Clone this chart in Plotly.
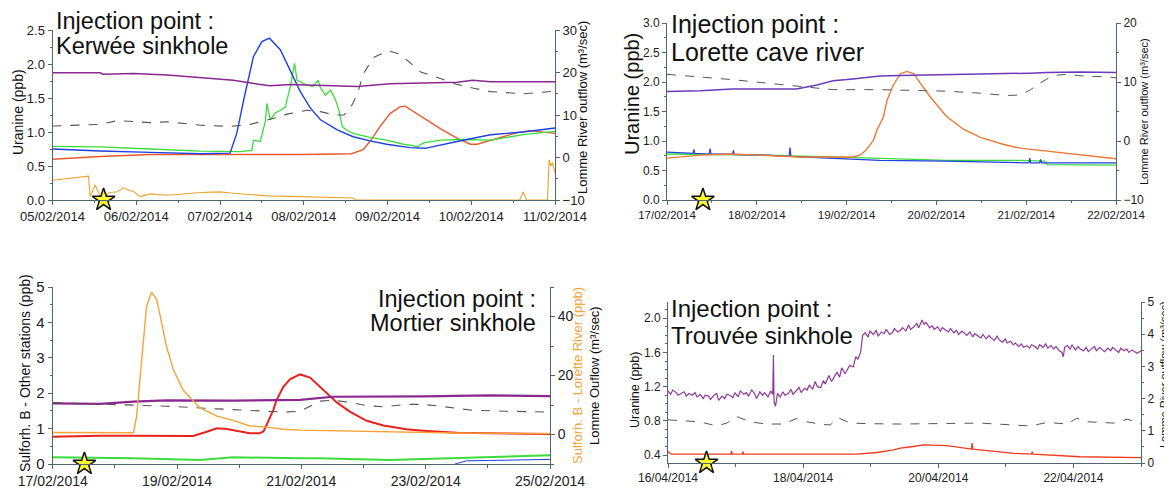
import plotly.graph_objects as go
import pandas as pd

W, H = 1172, 489
OFF = 8                       # page body margin of the browser
FW, FH = W - OFF, H - OFF     # figure size inside the page
FONT = "Liberation Sans, Arial, sans-serif"
AX = "#4f6670"

# ---------------- Panel 1 : Kerwée sinkhole (days from 05/02/2014) ----------------
p1_base = "2014-02-05"
p1_purple_t = [0, 0.57, 0.60, 0.97, 1.37, 1.77, 2.16, 2.48, 2.60, 2.84, 3.23, 3.64, 4.03, 4.43, 4.83, 5.02, 5.23, 6.0]
p1_purple_v = [1.87, 1.87, 1.85, 1.86, 1.84, 1.80, 1.76, 1.70, 1.68, 1.70, 1.68, 1.67, 1.71, 1.72, 1.73, 1.76, 1.74, 1.74]
p1_blue_t = [0, 0.57, 1.17, 1.77, 2.12, 2.20, 2.30, 2.40, 2.50, 2.59, 2.72, 2.84, 2.96, 3.08, 3.20, 3.40, 3.59, 3.79, 3.99, 4.27, 4.45, 4.83, 5.23, 5.62, 6.0]
p1_blue_v = [0.75, 0.72, 0.70, 0.68, 0.69, 0.98, 1.57, 2.11, 2.33, 2.38, 2.21, 1.91, 1.59, 1.35, 1.18, 1.03, 0.93, 0.87, 0.82, 0.77, 0.76, 0.86, 0.96, 1.00, 1.06]
p1_green_t = [0, 0.57, 1.17, 1.77, 2.24, 2.38, 2.40, 2.48, 2.54, 2.56, 2.60, 2.66, 2.72, 2.78, 2.84, 2.89, 2.92, 2.96, 3.04, 3.11, 3.17, 3.20, 3.26, 3.32, 3.38, 3.42, 3.46, 3.51, 3.59, 3.79, 3.99, 4.19, 4.31, 4.35, 4.43, 4.63, 4.90, 5.23, 5.62, 6.0]
p1_green_v = [0.79, 0.78, 0.75, 0.72, 0.71, 0.73, 0.88, 0.86, 1.15, 1.42, 1.18, 1.28, 1.32, 1.37, 1.67, 2.01, 1.76, 1.74, 1.69, 1.67, 1.76, 1.65, 1.54, 1.62, 1.47, 1.32, 1.08, 1.03, 0.98, 0.92, 0.88, 0.82, 0.80, 0.78, 0.84, 0.88, 0.89, 0.88, 0.96, 1.01]
p1_red_t = [0, 0.57, 1.17, 1.77, 2.37, 2.97, 3.57, 3.71, 3.79, 3.91, 4.03, 4.15, 4.21, 4.35, 4.43, 4.63, 4.83, 4.99, 5.07, 5.23, 5.55, 5.70, 6.0]
p1_red_v = [0.60, 0.64, 0.67, 0.67, 0.66, 0.67, 0.68, 0.74, 0.86, 1.08, 1.27, 1.37, 1.38, 1.27, 1.22, 1.05, 0.91, 0.82, 0.82, 0.88, 0.99, 1.02, 0.98]
p1_orange_t = [0, 0.43, 0.45, 0.51, 0.57, 0.69, 0.78, 0.84, 0.97, 1.05, 1.17, 1.37, 1.77, 2.00, 2.16, 2.57, 2.96, 3.32, 3.59, 3.62, 5.58, 5.62, 5.66, 5.91, 5.93, 5.95, 5.97, 6.0]
p1_orange_v = [0.29, 0.35, 0.05, 0.22, 0.05, 0.11, 0.12, 0.18, 0.12, 0.05, 0.09, 0.07, 0.11, 0.12, 0.10, 0.06, 0.05, 0.04, 0.03, 0.0, 0.0, 0.12, 0.0, 0.0, 0.59, 0.50, 0.55, 0.40]
p1_flow_t = [0, 0.57, 0.78, 1.17, 1.37, 1.77, 2.12, 2.36, 2.72, 2.80, 3.04, 3.20, 3.36, 3.48, 3.56, 3.64, 3.71, 3.83, 4.01, 4.15, 4.27, 4.39, 4.63, 4.83, 5.03, 5.23, 5.62, 6.0]
p1_flow_v = [7.4, 7.8, 8.7, 8.2, 8.4, 7.6, 7.3, 7.8, 9.6, 10.2, 11.1, 10.8, 10.0, 10.0, 11.7, 14.9, 19.6, 23.5, 25.1, 24.3, 22.3, 20.2, 18.6, 17.2, 16.3, 15.5, 15.0, 15.6]
p1_star_t = [0.61]

# ---------------- Panel 2 : Lorette cave river (days from 17/02/2014) ----------------
p2_base = "2014-02-17"
p2_purple_t = [0, 0.37, 0.73, 1.11, 1.44, 1.67, 1.85, 2.07, 2.22, 2.37, 2.60, 3.11, 3.49, 4.04, 4.23, 4.60, 5.0]
p2_purple_v = [1.84, 1.85, 1.88, 1.88, 1.88, 1.95, 2.02, 2.05, 2.07, 2.10, 2.11, 2.12, 2.14, 2.15, 2.16, 2.17, 2.16]
p2_flow_t = [0, 0.73, 1.48, 1.85, 2.37, 3.11, 3.49, 3.78, 3.93, 4.04, 4.15, 4.30, 4.45, 4.67, 4.90, 5.0]
p2_flow_v = [11.3, 10.4, 9.25, 8.7, 8.7, 8.45, 8.1, 7.7, 7.8, 8.6, 9.8, 11.1, 11.3, 10.95, 10.9, 10.7]
p2_orange_t = [0, 0.37, 0.73, 1.48, 1.85, 2.07, 2.15, 2.22, 2.30, 2.34, 2.41, 2.45, 2.52, 2.60, 2.67, 2.75, 2.82, 2.93, 3.11, 3.30, 3.49, 3.75, 3.93, 4.23, 4.60, 5.0]
p2_orange_v = [0.71, 0.76, 0.78, 0.73, 0.73, 0.73, 0.76, 0.85, 1.02, 1.19, 1.41, 1.69, 1.95, 2.14, 2.18, 2.14, 1.98, 1.75, 1.42, 1.20, 1.06, 0.94, 0.88, 0.83, 0.76, 0.70]
p2_blue_t = [0, 0.29, 0.30, 0.31, 0.47, 0.48, 0.49, 0.73, 0.74, 0.75, 1.11, 1.36, 1.37, 1.38, 1.48, 1.85, 2.37, 3.11, 3.85, 4.03, 4.04, 4.05, 4.15, 4.16, 4.17, 5.0]
p2_blue_v = [0.81, 0.79, 0.86, 0.79, 0.78, 0.87, 0.78, 0.78, 0.84, 0.77, 0.76, 0.74, 0.89, 0.74, 0.73, 0.71, 0.67, 0.66, 0.63, 0.63, 0.71, 0.63, 0.63, 0.69, 0.63, 0.63]
p2_green_t = [0, 0.73, 1.11, 1.85, 2.60, 3.11, 3.93, 4.20, 4.23, 5.0]
p2_green_v = [0.78, 0.77, 0.76, 0.73, 0.69, 0.67, 0.67, 0.66, 0.60, 0.59]
p2_star_t = [0.40]

# ---------------- Panel 3 : Mortier sinkhole (days from 17/02/2014) ----------------
p3_base = "2014-02-17"
p3_orange_t = [0, 1.30, 1.35, 1.40, 1.46, 1.51, 1.59, 1.67, 1.73, 1.83, 1.94, 2.10, 2.37, 2.64, 2.90, 3.17, 3.44, 3.71, 3.98, 4.78, 5.58, 6.47, 8.0]
p3_orange_v = [0.7, 0.6, 6.2, 18.6, 33.3, 43.5, 48.3, 45.8, 40.1, 29.9, 22.0, 15.0, 9.0, 6.2, 4.8, 2.9, 2.5, 1.8, 1.5, 1.1, 0.7, 0.5, 0.3]
p3_red_t = [0, 0.76, 1.30, 2.10, 2.26, 2.48, 2.64, 2.80, 3.01, 3.17, 3.33, 3.39, 3.44, 3.55, 3.60, 3.71, 3.82, 3.98, 4.14, 4.35, 4.57, 4.78, 5.05, 5.32, 5.69, 5.96, 6.50, 7.03, 8.0]
p3_red_v = [0.77, 0.80, 0.80, 0.80, 0.79, 0.91, 1.01, 0.99, 0.91, 0.87, 0.87, 0.92, 1.10, 1.53, 1.80, 2.18, 2.40, 2.53, 2.44, 2.09, 1.74, 1.48, 1.22, 1.09, 0.98, 0.94, 0.88, 0.87, 0.85]
p3_purple_t = [0, 0.76, 1.30, 1.83, 2.90, 3.98, 4.51, 5.96, 7.03, 8.0]
p3_purple_v = [1.71, 1.70, 1.76, 1.80, 1.79, 1.81, 1.90, 1.91, 1.94, 1.92]
p3_flow_t = [0, 0.76, 1.83, 2.64, 3.17, 3.71, 3.98, 4.14, 4.30, 4.51, 4.78, 5.05, 5.32, 5.69, 5.96, 6.23, 6.76, 7.30, 8.0]
p3_flow_v = [10.8, 10.4, 9.6, 8.7, 8.1, 7.6, 7.9, 9.6, 11.3, 11.6, 10.9, 9.8, 9.4, 10.2, 10.2, 9.6, 8.2, 7.9, 7.6]
p3_green_t = [0, 1.30, 2.37, 2.90, 3.98, 4.30, 5.42, 6.50, 8.0]
p3_green_v = [0.19, 0.16, 0.11, 0.19, 0.16, 0.16, 0.11, 0.16, 0.25]
p3_blue_t = [6.47, 6.66, 7.03, 8.0]
p3_blue_v = [0.0, 0.09, 0.10, 0.13]
p3_star_t = [0.51]

# ---------------- Panel 4 : Trouvée sinkhole (days from 16/04/2014) ----------------
p4_base = "2014-04-16"
p4_purple_t = [0.00, 0.04, 0.07, 0.12, 0.15, 0.19, 0.24, 0.27, 0.31, 0.36, 0.40, 0.43, 0.48, 0.52, 0.55, 0.60, 0.63, 0.68, 0.72, 0.75,
               0.80, 0.84, 0.87, 0.92, 0.96, 0.99, 1.04, 1.07, 1.12, 1.16, 1.19, 1.24, 1.28, 1.31, 1.36, 1.40, 1.43, 1.48, 1.52, 1.55,
               1.56, 1.57, 1.59, 1.62, 1.66, 1.70, 1.73, 1.78, 1.82, 1.85, 1.90, 1.94, 1.97, 2.02, 2.06, 2.09, 2.14, 2.18, 2.21, 2.26,
               2.30, 2.33, 2.38, 2.42, 2.45, 2.50, 2.54, 2.57, 2.62, 2.66, 2.69, 2.74, 2.78, 2.81, 2.85, 2.88, 2.92, 2.96, 2.99, 3.04,
               3.08, 3.11, 3.16, 3.20, 3.23, 3.28, 3.32, 3.35, 3.40, 3.44, 3.47, 3.52, 3.56, 3.59, 3.64, 3.68, 3.71, 3.76, 3.79, 3.82,
               3.87, 3.91, 3.94, 3.99, 4.03, 4.06, 4.11, 4.15, 4.18, 4.23, 4.27, 4.30, 4.35, 4.39, 4.42, 4.47, 4.51, 4.54, 4.59, 4.63,
               4.66, 4.71, 4.75, 4.78, 4.83, 4.87, 4.90, 4.95, 4.99, 5.02, 5.07, 5.11, 5.14, 5.19, 5.23, 5.26, 5.31, 5.35, 5.38, 5.43,
               5.47, 5.50, 5.55, 5.59, 5.62, 5.67, 5.71, 5.74, 5.79, 5.83, 5.85, 5.87, 5.91, 5.95, 5.98, 6.03, 6.07, 6.10, 6.15, 6.19,
               6.22, 6.27, 6.31, 6.34, 6.39, 6.43, 6.46, 6.51, 6.55, 6.58, 6.63, 6.67, 6.70, 6.75, 6.79, 6.82, 6.87, 6.91, 6.94, 7.00]
p4_purple_v = [1.15, 1.11, 1.16, 1.13, 1.10, 1.12, 1.14, 1.09, 1.12, 1.10, 1.13, 1.08, 1.11, 1.06, 1.10, 1.09, 1.05, 1.10, 1.12, 1.04,
               1.09, 1.06, 1.11, 1.10, 1.07, 1.13, 1.08, 1.15, 1.11, 1.13, 1.09, 1.16, 1.12, 1.06, 1.14, 1.10, 1.13, 1.08, 1.15, 1.11,
               1.57, 1.02, 0.97, 1.12, 1.08, 1.14, 1.10, 1.12, 1.17, 1.11, 1.15, 1.19, 1.13, 1.18, 1.16, 1.22, 1.17, 1.26, 1.20, 1.19,
               1.27, 1.23, 1.33, 1.26, 1.30, 1.37, 1.31, 1.42, 1.35, 1.40, 1.45, 1.43, 1.55, 1.52, 1.60, 1.80, 1.83, 1.78, 1.85, 1.81,
               1.86, 1.79, 1.84, 1.82, 1.87, 1.81, 1.83, 1.88, 1.84, 1.86, 1.89, 1.85, 1.92, 1.87, 1.90, 1.94, 1.89, 1.98, 1.93, 1.95,
               1.89, 1.91, 1.87, 1.90, 1.85, 1.89, 1.86, 1.84, 1.88, 1.83, 1.86, 1.81, 1.85, 1.82, 1.80, 1.84, 1.78, 1.82, 1.79, 1.77,
               1.81, 1.76, 1.80, 1.77, 1.74, 1.79, 1.75, 1.72, 1.76, 1.71, 1.73, 1.69, 1.71, 1.67, 1.70, 1.66, 1.68, 1.65, 1.69, 1.67,
               1.64, 1.69, 1.66, 1.70, 1.65, 1.68, 1.64, 1.67, 1.62, 1.60, 1.55, 1.66, 1.68, 1.64, 1.69, 1.63, 1.67, 1.64, 1.62, 1.66,
               1.61, 1.65, 1.67, 1.62, 1.66, 1.63, 1.61, 1.65, 1.62, 1.66, 1.63, 1.60, 1.65, 1.62, 1.64, 1.60, 1.63, 1.61, 1.59, 1.62]
p4_flow_t = [0, 0.47, 0.72, 0.87, 1.02, 1.21, 1.46, 1.71, 1.90, 2.05, 2.25, 2.40, 2.52, 2.70, 3.0, 3.44, 4.62, 5.36, 5.61, 5.91, 6.05, 6.20, 6.60, 6.80, 7.0]
p4_flow_v = [1.34, 1.28, 1.15, 1.24, 1.44, 1.28, 1.21, 1.21, 1.38, 1.28, 1.21, 1.18, 1.40, 1.24, 1.22, 1.21, 1.24, 1.15, 1.26, 1.21, 1.39, 1.28, 1.24, 1.36, 1.21]
p4_red_t = [0, 0.05, 0.93, 0.94, 0.95, 1.10, 1.11, 1.12, 2.80, 3.09, 3.34, 3.44, 3.63, 3.78, 4.13, 4.49, 4.50, 4.51, 4.62, 5.12, 5.38, 5.39, 5.40, 5.61, 6.10, 7.0]
p4_red_v = [0.44, 0.41, 0.41, 0.45, 0.41, 0.41, 0.44, 0.41, 0.41, 0.43, 0.46, 0.48, 0.50, 0.52, 0.51, 0.47, 0.54, 0.47, 0.46, 0.42, 0.41, 0.44, 0.41, 0.40, 0.38, 0.37]
p4_star_t = [0.57]


def ts(base, days):
    b = pd.Timestamp(base)
    return [b + pd.Timedelta(days=d) for d in days]


def xdom(a, b):
    return [(a - OFF) / FW, (b - OFF) / FW]


def ydom(top, bottom):
    return [1 - (bottom - OFF) / FH, 1 - (top - OFF) / FH]


fig = go.Figure()


def line(base, t, v, color, xa, ya, width=1.3, dash="solid"):
    fig.add_trace(go.Scatter(x=ts(base, t), y=v, mode="lines", xaxis=xa, yaxis=ya,
                             line=dict(color=color, width=width, dash=dash), showlegend=False,
                             hoverinfo="skip"))


def star(base, t, yv, xa, ya):
    fig.add_trace(go.Scatter(x=ts(base, t), y=[yv] * len(t), mode="markers", xaxis=xa, yaxis=ya,
                             marker=dict(symbol="star", size=17, color="#ffff33",
                                         line=dict(color="#111111", width=1.5)),
                             cliponaxis=False, showlegend=False, hoverinfo="skip"))


PURPLE = "#8B2890"
BLUE = "#2040E0"
GREEN = "#3CDC3C"
DASH = "#555555"

# Panel 1
line(p1_base, p1_flow_t, p1_flow_v, DASH, "x", "y2", 1.1, "dash")
line(p1_base, p1_orange_t, p1_orange_v, "#EAA530", "x", "y", 1.1)
line(p1_base, p1_red_t, p1_red_v, "#E85A2C", "x", "y", 1.4)
line(p1_base, p1_green_t, p1_green_v, GREEN, "x", "y", 1.3)
line(p1_base, p1_blue_t, p1_blue_v, BLUE, "x", "y", 1.4)
line(p1_base, p1_purple_t, p1_purple_v, PURPLE, "x", "y", 1.5)
star(p1_base, p1_star_t, 0, "x", "y")

# Panel 2
line(p2_base, p2_flow_t, p2_flow_v, DASH, "x2", "y4", 1.0, "dash")
line(p2_base, p2_green_t, p2_green_v, GREEN, "x2", "y3", 1.3)
line(p2_base, p2_blue_t, p2_blue_v, BLUE, "x2", "y3", 1.2)
line(p2_base, p2_orange_t, p2_orange_v, "#F07838", "x2", "y3", 1.4)
line(p2_base, p2_purple_t, p2_purple_v, "#6A3BB8", "x2", "y3", 1.5)
star(p2_base, p2_star_t, 0, "x2", "y3")

# Panel 3
line(p3_base, p3_flow_t, p3_flow_v, DASH, "x3", "y6", 1.1, "dash")
line(p3_base, p3_green_t, p3_green_v, GREEN, "x3", "y5", 2.0)
line(p3_base, p3_blue_t, p3_blue_v, BLUE, "x3", "y5", 1.0)
line(p3_base, p3_orange_t, p3_orange_v, "#F5A33A", "x3", "y6", 1.4)
line(p3_base, p3_red_t, p3_red_v, "#E8231E", "x3", "y5", 2.0)
line(p3_base, p3_purple_t, p3_purple_v, PURPLE, "x3", "y5", 2.2)
star(p3_base, p3_star_t, 0, "x3", "y5")

# Panel 4
line(p4_base, p4_flow_t, p4_flow_v, DASH, "x4", "y8", 1.0, "dash")
line(p4_base, p4_red_t, p4_red_v, "#F03A1E", "x4", "y7", 1.3)
line(p4_base, p4_purple_t, p4_purple_v, "#8E3A98", "x4", "y7", 1.2)
star(p4_base, p4_star_t, 0.307, "x4", "y7")


def axstyle(size, **kw):
    d = dict(showline=True, linecolor=AX, linewidth=1, ticks="outside", ticklen=4, tickcolor=AX,
             showgrid=False, zeroline=False, automargin=False,
             tickfont=dict(family=FONT, size=size, color="#222222"))
    d.update(kw)
    return d


DAY = 86400000

layout = dict(
    width=FW, height=FH, margin=dict(l=0, r=0, t=0, b=0, pad=0),
    paper_bgcolor="white", plot_bgcolor="white", showlegend=False,
    # panel 1
    xaxis=axstyle(13, domain=xdom(52.5, 555), anchor="y", type="date",
                  range=["2014-02-05", "2014-02-11"], tick0="2014-02-05", dtick=DAY,
                  tickformat="%d/%m/%Y", minor=dict(ticks="outside", ticklen=2, dtick=DAY / 2, tickcolor=AX)),
    yaxis=axstyle(13, domain=ydom(30, 200), anchor="x", range=[0, 2.5], dtick=0.5, tickformat=".1f",
                  minor=dict(ticks="outside", ticklen=2, dtick=0.25, tickcolor=AX)),
    yaxis2=axstyle(13, anchor="x", overlaying="y", side="right", range=[-10, 30], dtick=10,
                   minor=dict(ticks="outside", ticklen=2, dtick=5, tickcolor=AX)),
    # panel 2
    xaxis2=axstyle(11.5, domain=xdom(667, 1116), anchor="y3", type="date",
                   range=["2014-02-17", "2014-02-22"], tick0="2014-02-17", dtick=DAY,
                   tickformat="%d/%m/%Y", minor=dict(ticks="outside", ticklen=2, dtick=DAY / 2, tickcolor=AX)),
    yaxis3=axstyle(12, domain=ydom(23, 200), anchor="x2", range=[0, 3.0], dtick=0.5, tickformat=".1f",
                   minor=dict(ticks="outside", ticklen=2, dtick=0.25, tickcolor=AX)),
    yaxis4=axstyle(12, anchor="x2", overlaying="y3", side="right", range=[-10, 20], dtick=10,
                   minor=dict(ticks="outside", ticklen=2, dtick=5, tickcolor=AX)),
    # panel 3
    xaxis3=axstyle(14, domain=xdom(52.7, 550), anchor="y5", type="date",
                   range=["2014-02-17", "2014-02-25"], tick0="2014-02-17", dtick=2 * DAY,
                   tickformat="%d/%m/%Y", minor=dict(ticks="outside", ticklen=3, dtick=DAY, tickcolor=AX)),
    yaxis5=axstyle(15, domain=ydom(287, 464), anchor="x3", range=[0, 5], dtick=1,
                   minor=dict(ticks="outside", ticklen=2, dtick=0.5, tickcolor=AX)),
    yaxis6=axstyle(14, anchor="x3", overlaying="y5", side="right", range=[-10, 50], tick0=0, dtick=20,
                   minor=dict(ticks="outside", ticklen=3, dtick=10, tickcolor=AX)),
    # panel 4
    xaxis4=axstyle(12, domain=xdom(668, 1141), anchor="y7", type="date",
                   range=["2014-04-16", "2014-04-23"], tick0="2014-04-16", dtick=2 * DAY,
                   tickformat="%d/%m/%Y", minor=dict(ticks="outside", ticklen=3, dtick=DAY, tickcolor=AX)),
    yaxis7=axstyle(12, domain=ydom(302, 463), anchor="x4", range=[0.307, 2.19], tick0=0.4, dtick=0.4,
                   tickformat=".1f", minor=dict(ticks="outside", ticklen=2, dtick=0.1, tickcolor=AX)),
    yaxis8=axstyle(12, anchor="x4", overlaying="y7", side="right", range=[0, 5], dtick=1, ticklen=3,
                   minor=dict(ticks="outside", ticklen=2, dtick=0.5, tickcolor=AX)),
)
fig.update_layout(**layout)


def ann(text, px, py, size, xanchor="center", angle=0, color="#111111"):
    fig.add_annotation(text=text, x=(px - OFF) / FW, y=1 - (py - OFF) / FH, xref="paper", yref="paper",
                       xanchor=xanchor, yanchor="middle", showarrow=False, textangle=angle,
                       borderpad=0, font=dict(family=FONT, size=size, color=color))


# titles
ann("Injection point :", 55, 21.3, 23.5, "left")
ann("Kerwée sinkhole", 55, 45.5, 23.5, "left")
ann("Injection point :", 670, 24.5, 25, "left")
ann("Lorette cave river", 670, 52, 25, "left")
ann("Injection point :", 537, 299, 23.5, "right")
ann("Mortier sinkhole", 537, 322.5, 23.5, "right")
ann("Injection point :", 670, 308.3, 24, "left")
ann("Trouvée sinkhole", 670, 335, 24, "left")

# axis titles
ann("Uranine (ppb)", 18, 112, 14, angle=-90)
ann("Lomme River outflow (m³/sec)", 582, 108, 13, angle=-90)
ann("Uranine (ppb)", 632, 94, 20, angle=-90)
ann("Lomme River outflow (m³/sec)", 1144, 112, 11, angle=-90)
ann("Sulforh. B - Other stations (ppb)", 25, 373, 14, angle=-90)
ann("Sulforh. B - Lorette River (ppb)", 577, 376, 13, angle=-90, color="#F5A33A")
ann("Lomme Ouflow (m³/sec)", 594, 376, 13, angle=-90)
ann("Uranine (ppb)", 635, 390, 12.5, angle=-90)
ann("Lomme River outflow (m³/sec)", 1164, 375, 11, angle=-90)

fig.write_html("out.html")
